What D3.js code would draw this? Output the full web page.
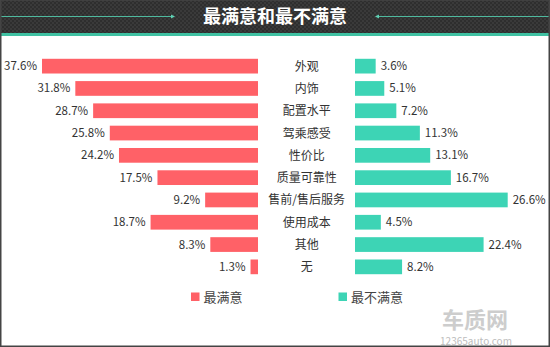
<!DOCTYPE html>
<html><head><meta charset="utf-8">
<script src="https://cdn.jsdelivr.net/npm/d3@7"></script>
<style>html,body{margin:0;padding:0;background:#fff;}svg{display:block;}</style>
</head><body>
<svg id="c" width="550" height="347"></svg>
<script>
const categories = ["外观","内饰","配置水平","驾乘感受","性价比","质量可靠性","售前/售后服务","使用成本","其他","无"];
const satisfied = [37.6,31.8,28.7,25.8,24.2,17.5,9.2,18.7,8.3,1.3];
const unsatisfied = [3.6,5.1,7.2,11.3,13.1,16.7,26.6,4.5,22.4,8.2];
const seriesNames = ["最满意","最不满意"];
const title = "最满意和最不满意";

const W = 550, H = 347;
const red = "#ff6167", teal = "#3dd4b5";
const font = "'Microsoft YaHei','Noto Sans CJK SC',sans-serif";
const svg = d3.select("#c");

// header pattern
const defs = svg.append("defs");
const pat = defs.append("pattern").attr("id","chk").attr("width",4).attr("height",4).attr("patternUnits","userSpaceOnUse");
pat.append("rect").attr("width",4).attr("height",4).attr("fill","#3a3a3a");
pat.append("rect").attr("width",2).attr("height",2).attr("fill","#2e2e2e");
pat.append("rect").attr("x",2).attr("y",2).attr("width",2).attr("height",2).attr("fill","#2e2e2e");
svg.append("rect").attr("x",0).attr("y",0).attr("width",W).attr("height",33).attr("fill","url(#chk)");
svg.append("rect").attr("x",0).attr("y",33).attr("width",W).attr("height",3).attr("fill","#3fc1a2");
// header lines
svg.append("line").attr("x1",0).attr("x2",174).attr("y1",16.5).attr("y2",16.5).attr("stroke","#4fb99e").attr("stroke-width",1.2);
svg.append("path").attr("d","M171,14.5 L175,16.5 L171,18.5 Z").attr("fill","#5fd0b3");
svg.append("line").attr("x1",376).attr("x2",W).attr("y1",16.5).attr("y2",16.5).attr("stroke","#4fb99e").attr("stroke-width",1.2);
svg.append("path").attr("d","M379,14.5 L375,16.5 L379,18.5 Z").attr("fill","#5fd0b3");
svg.append("text").attr("x",275).attr("y",23).attr("text-anchor","middle").attr("fill","#fff")
  .attr("font-family",font).attr("font-weight","bold").attr("font-size",18).text(title);

// border
svg.append("rect").attr("x",0.75).attr("y",0).attr("width",W-1.5).attr("height",H-0.75).attr("fill","none").attr("stroke","#444").attr("stroke-width",1.5);

// scales
const y = d3.scaleBand().domain(categories).range([55,278]).paddingInner(0.34).paddingOuter(0.17);
const xL = d3.scaleLinear().domain([0,37.6]).range([258,42]);
const xR = d3.scaleLinear().domain([0,26.6]).range([355,507.7]);

const g = svg.append("g");
g.selectAll(".bl").data(categories).join("rect")
  .attr("x",(d,i)=>xL(satisfied[i])).attr("y",d=>y(d))
  .attr("width",(d,i)=>xL(0)-xL(satisfied[i])).attr("height",y.bandwidth()).attr("fill",red);
g.selectAll(".br").data(categories).join("rect")
  .attr("x",xR(0)).attr("y",d=>y(d))
  .attr("width",(d,i)=>xR(unsatisfied[i])-xR(0)).attr("height",y.bandwidth()).attr("fill",teal);
g.selectAll(".tl").data(categories).join("text")
  .attr("x",(d,i)=>xL(satisfied[i])-5).attr("y",d=>y(d)+y.bandwidth()/2+4)
  .attr("text-anchor","end").attr("font-family",font).attr("font-size",11.5).attr("fill","#333")
  .text((d,i)=>satisfied[i].toFixed(1)+"%");
g.selectAll(".tr").data(categories).join("text")
  .attr("x",(d,i)=>xR(unsatisfied[i])+5).attr("y",d=>y(d)+y.bandwidth()/2+4)
  .attr("font-family",font).attr("font-size",11.5).attr("fill","#333")
  .text((d,i)=>unsatisfied[i].toFixed(1)+"%");
g.selectAll(".cat").data(categories).join("text")
  .attr("x",306.7).attr("y",d=>y(d)+y.bandwidth()/2+4.5)
  .attr("text-anchor","middle").attr("font-family",font).attr("font-size",12).attr("fill","#333")
  .text(d=>d);

// legend
const leg = [[191,red],[338.5,teal]];
leg.forEach((l,i)=>{
  svg.append("rect").attr("x",l[0]).attr("y",292.5).attr("width",8.5).attr("height",8.5).attr("fill",l[1]);
  svg.append("text").attr("x",l[0]+12.5).attr("y",301.5).attr("font-family",font).attr("font-size",13).attr("fill","#444").text(seriesNames[i]);
});

// watermark
svg.append("text").attr("x",475).attr("y",328).attr("text-anchor","middle").attr("font-family",font)
  .attr("font-weight","bold").attr("font-size",22).attr("fill","#cdcdcd").text("车质网");
svg.append("text").attr("x",476).attr("y",344.5).attr("text-anchor","middle").attr("font-family",font)
  .attr("font-size",10).attr("fill","#bdbdbd").text("12365auto.com");
</script>
</body></html>
